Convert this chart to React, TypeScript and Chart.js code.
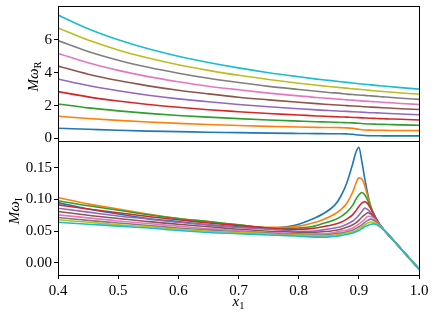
import React, { useEffect, useRef } from "react";
import { Chart, registerables } from "chart.js";
Chart.register(...registerables);

const FONT = "'Liberation Serif', 'DejaVu Serif', serif";
const COLORS = ["#1f77b4", "#ff7f0e", "#2ca02c", "#d62728", "#9467bd", "#8c564b", "#e377c2", "#7f7f7f", "#bcbd22", "#17becf"];

// Top panel: M omega_R
const X_R = [0.40, 0.45, 0.50, 0.55, 0.60, 0.65, 0.70, 0.75, 0.80, 0.83, 0.85, 0.87, 0.88, 0.89, 0.90, 0.91, 0.92, 0.93, 0.94, 0.95, 0.97, 1.00];
const R1 = [0.62, 0.56, 0.50, 0.45, 0.42, 0.38, 0.36, 0.33, 0.31, 0.30, 0.29, 0.29, 0.28, 0.26, 0.21, 0.18, 0.17, 0.17, 0.16, 0.16, 0.16, 0.16];
const R2 = [1.35, 1.22, 1.10, 1.00, 0.92, 0.85, 0.79, 0.74, 0.70, 0.68, 0.67, 0.66, 0.65, 0.62, 0.56, 0.52, 0.51, 0.50, 0.50, 0.49, 0.49, 0.48];
const R3 = [2.10, 1.86, 1.68, 1.53, 1.40, 1.30, 1.21, 1.13, 1.06, 1.02, 1.00, 0.97, 0.96, 0.95, 0.93, 0.90, 0.88, 0.87, 0.86, 0.85, 0.83, 0.81];
const R4 = [2.85, 2.53, 2.28, 2.07, 1.90, 1.75, 1.63, 1.52, 1.43, 1.37, 1.34, 1.31, 1.30, 1.28, 1.27, 1.25, 1.23, 1.22, 1.20, 1.19, 1.17, 1.13];
const R5 = [3.62, 3.22, 2.90, 2.63, 2.41, 2.23, 2.07, 1.93, 1.81, 1.74, 1.70, 1.66, 1.65, 1.63, 1.61, 1.59, 1.57, 1.56, 1.54, 1.52, 1.49, 1.44];
const R6 = [4.40, 3.91, 3.52, 3.20, 2.93, 2.71, 2.51, 2.35, 2.20, 2.12, 2.07, 2.02, 2.00, 1.98, 1.96, 1.93, 1.91, 1.89, 1.87, 1.85, 1.81, 1.76];
const R7 = [5.17, 4.60, 4.14, 3.76, 3.45, 3.18, 2.96, 2.76, 2.59, 2.49, 2.44, 2.38, 2.35, 2.33, 2.30, 2.27, 2.25, 2.23, 2.20, 2.18, 2.13, 2.07];
const R8 = [5.95, 5.29, 4.76, 4.33, 3.97, 3.66, 3.40, 3.17, 2.98, 2.87, 2.80, 2.74, 2.70, 2.67, 2.64, 2.62, 2.59, 2.56, 2.53, 2.51, 2.45, 2.38];
const R9 = [6.72, 5.98, 5.38, 4.89, 4.48, 4.14, 3.84, 3.59, 3.36, 3.24, 3.16, 3.09, 3.06, 3.02, 2.99, 2.96, 2.92, 2.89, 2.86, 2.83, 2.77, 2.69];
const R10 = [7.50, 6.67, 6.00, 5.45, 5.00, 4.62, 4.29, 4.00, 3.75, 3.61, 3.53, 3.45, 3.41, 3.37, 3.33, 3.30, 3.26, 3.23, 3.19, 3.16, 3.09, 3.00];

// Bottom panel: M omega_I
const X_I = [0.40, 0.45, 0.50, 0.55, 0.60, 0.65, 0.70, 0.75, 0.78, 0.80, 0.82, 0.84, 0.86, 0.87, 0.88, 0.89, 0.895, 0.90, 0.905, 0.91, 0.915, 0.92, 0.925, 0.93, 0.935, 0.94, 0.945, 0.95, 0.97, 1.00];
const I1 = [0.095, 0.085, 0.077, 0.070, 0.065, 0.060, 0.057, 0.055, 0.057, 0.061, 0.068, 0.077, 0.091, 0.105, 0.126, 0.157, 0.174, 0.182, 0.160, 0.132, 0.108, 0.088, 0.076, 0.067, 0.060, 0.054, 0.0487, 0.0434, 0.0223, -0.0095];
const I2 = [0.103, 0.093, 0.085, 0.077, 0.070, 0.065, 0.060, 0.056, 0.056, 0.058, 0.062, 0.068, 0.077, 0.084, 0.094, 0.112, 0.125, 0.134, 0.132, 0.121, 0.104, 0.089, 0.077, 0.067, 0.060, 0.054, 0.0487, 0.0434, 0.0223, -0.0095];
const I3 = [0.098, 0.090, 0.083, 0.076, 0.070, 0.065, 0.060, 0.055, 0.054, 0.055, 0.057, 0.062, 0.068, 0.073, 0.080, 0.091, 0.100, 0.107, 0.111, 0.107, 0.098, 0.087, 0.077, 0.068, 0.060, 0.054, 0.0487, 0.0434, 0.0223, -0.0095];
const I4 = [0.0915, 0.085, 0.079, 0.073, 0.068, 0.063, 0.059, 0.055, 0.053, 0.053, 0.054, 0.057, 0.061, 0.064, 0.069, 0.076, 0.082, 0.089, 0.094, 0.0965, 0.093, 0.085, 0.076, 0.068, 0.060, 0.054, 0.0487, 0.0434, 0.0223, -0.0095];
const I5 = [0.086, 0.080, 0.074, 0.069, 0.064, 0.060, 0.056, 0.053, 0.051, 0.050, 0.050, 0.052, 0.055, 0.057, 0.061, 0.066, 0.070, 0.075, 0.081, 0.0863, 0.084, 0.079, 0.073, 0.066, 0.060, 0.054, 0.0487, 0.0434, 0.0223, -0.0095];
const I6 = [0.081, 0.075, 0.070, 0.065, 0.061, 0.057, 0.053, 0.050, 0.049, 0.048, 0.048, 0.049, 0.051, 0.053, 0.056, 0.060, 0.063, 0.067, 0.072, 0.076, 0.079, 0.077, 0.072, 0.066, 0.060, 0.054, 0.0487, 0.0434, 0.0223, -0.0095];
const I7 = [0.0757, 0.071, 0.066, 0.062, 0.058, 0.054, 0.051, 0.048, 0.047, 0.046, 0.046, 0.046, 0.048, 0.050, 0.052, 0.055, 0.058, 0.061, 0.065, 0.069, 0.0735, 0.073, 0.070, 0.065, 0.059, 0.054, 0.0487, 0.0434, 0.0223, -0.0095];
const I8 = [0.0715, 0.067, 0.063, 0.059, 0.055, 0.052, 0.049, 0.047, 0.045, 0.045, 0.044, 0.044, 0.046, 0.047, 0.049, 0.052, 0.054, 0.057, 0.060, 0.064, 0.067, 0.069, 0.067, 0.064, 0.059, 0.054, 0.0487, 0.0434, 0.0223, -0.0095];
const I9 = [0.068, 0.064, 0.060, 0.057, 0.053, 0.050, 0.048, 0.046, 0.044, 0.044, 0.043, 0.042, 0.044, 0.045, 0.047, 0.049, 0.051, 0.054, 0.057, 0.060, 0.063, 0.0645, 0.064, 0.062, 0.058, 0.054, 0.0487, 0.0434, 0.0223, -0.0095];
const I10 = [0.064, 0.061, 0.058, 0.055, 0.051, 0.048, 0.046, 0.044, 0.043, 0.042, 0.041, 0.0405, 0.042, 0.043, 0.045, 0.047, 0.049, 0.051, 0.054, 0.057, 0.059, 0.061, 0.0615, 0.060, 0.057, 0.054, 0.0487, 0.0434, 0.0223, -0.0095];

const R_TICKS = [0, 2, 4, 6];
const I_TICKS = [0, 0.05, 0.1, 0.15];
const X_TICKS = [0.4, 0.5, 0.6, 0.7, 0.8, 0.9, 1.0];

const W = 436;
const TOP_H = 150;
const BOT_TOP = 136;
const BOT_H = 322 - BOT_TOP;

type Part = { t: string; italic?: boolean; size: number; dy?: number };

function drawParts(ctx: CanvasRenderingContext2D, parts: Part[], cx: number) {
  let total = 0;
  const widths = parts.map((p) => {
    ctx.font = `${p.italic ? "italic " : ""}${p.size}px ${FONT}`;
    const w = ctx.measureText(p.t).width;
    total += w;
    return w;
  });
  let x = cx - total / 2;
  parts.forEach((p, i) => {
    ctx.font = `${p.italic ? "italic " : ""}${p.size}px ${FONT}`;
    ctx.fillText(p.t, x, p.dy || 0);
    x += widths[i];
  });
}

function makeFramePlugin(labels: (ctx: CanvasRenderingContext2D) => void) {
  return {
    id: "frame",
    afterDatasetsDraw(chart: any) {
      const { ctx, chartArea: a } = chart;
      ctx.save();
      ctx.strokeStyle = "#000";
      ctx.lineWidth = 1;
      ctx.strokeRect(
        Math.round(a.left) + 0.5,
        Math.round(a.top) + 0.5,
        Math.round(a.right - a.left),
        Math.round(a.bottom - a.top)
      );
      ctx.restore();
    },
    afterDraw(chart: any) {
      const ctx = chart.ctx as CanvasRenderingContext2D;
      ctx.save();
      ctx.fillStyle = "#000";
      ctx.textBaseline = "alphabetic";
      ctx.textAlign = "left";
      labels(ctx);
      ctx.restore();
    },
  };
}

function buildDatasets(xs: number[], series: number[][]) {
  return series.map((ys, i) => ({
    data: xs.map((x, j) => ({ x, y: ys[j] })),
    borderColor: COLORS[i],
    backgroundColor: COLORS[i],
    borderWidth: 1.6,
    pointRadius: 0,
    fill: false,
    cubicInterpolationMode: "monotone" as const,
    order: 10 - i,
  }));
}

const tickFont = { family: FONT, size: 15 };

function fitY(s: any) {
  s.width = 58;
  s.paddingTop = 0;
  s.paddingBottom = 0;
  s.paddingLeft = 0;
  s.paddingRight = 0;
}

export default function App() {
  const topRef = useRef<HTMLCanvasElement>(null);
  const botRef = useRef<HTMLCanvasElement>(null);

  useEffect(() => {
    const top = new Chart(topRef.current!, {
      type: "line",
      data: { datasets: buildDatasets(X_R, [R1, R2, R3, R4, R5, R6, R7, R8, R9, R10]) as any },
      options: {
        responsive: false,
        animation: false,
        devicePixelRatio: 1,
        layout: { padding: { top: 6, right: 17, bottom: TOP_H - 141, left: 0 } },
        plugins: { legend: { display: false }, tooltip: { enabled: false } },
        scales: {
          x: { type: "linear", min: 0.4, max: 1.0, display: false },
          y: {
            type: "linear",
            min: -0.15,
            max: 8.05,
            afterFit: fitY,
            afterBuildTicks: (s: any) => { s.ticks = R_TICKS.map((v) => ({ value: v })); },
            ticks: { font: tickFont, color: "#000", padding: 2, callback: (v: any) => String(v) },
            grid: { drawOnChartArea: false, drawTicks: true, tickLength: 4, color: "#000", lineWidth: 1 },
            border: { display: false },
          },
        },
      },
      plugins: [
        makeFramePlugin((ctx) => {
          ctx.translate(38, 76.5);
          ctx.rotate(-Math.PI / 2);
          drawParts(ctx, [
            { t: "M", italic: true, size: 15 },
            { t: "ω", italic: true, size: 15 },
            { t: "R", size: 10.5, dy: 3 },
          ], 0);
        }),
      ],
    });

    const bot = new Chart(botRef.current!, {
      type: "line",
      data: { datasets: buildDatasets(X_I, [I1, I2, I3, I4, I5, I6, I7, I8, I9, I10]) as any },
      options: {
        responsive: false,
        animation: false,
        devicePixelRatio: 1,
        layout: { padding: { top: 141 - BOT_TOP, right: 17, bottom: 0, left: 0 } },
        plugins: { legend: { display: false }, tooltip: { enabled: false } },
        scales: {
          x: {
            type: "linear",
            min: 0.4,
            max: 1.0,
            afterFit: (s: any) => {
              s.height = BOT_H - (275 - BOT_TOP);
              s.paddingLeft = 0;
              s.paddingRight = 0;
              s.paddingTop = 0;
              s.paddingBottom = 0;
            },
            afterBuildTicks: (s: any) => { s.ticks = X_TICKS.map((v) => ({ value: v })); },
            ticks: { font: tickFont, color: "#000", padding: 3, maxRotation: 0, callback: (v: any) => Number(v).toFixed(1) },
            grid: { drawOnChartArea: false, drawTicks: true, tickLength: 4, color: "#000", lineWidth: 1 },
            border: { display: false },
          },
          y: {
            type: "linear",
            min: -0.019,
            max: 0.192,
            afterFit: fitY,
            afterBuildTicks: (s: any) => { s.ticks = I_TICKS.map((v) => ({ value: v })); },
            ticks: { font: tickFont, color: "#000", padding: 2, callback: (v: any) => Number(v).toFixed(2) },
            grid: { drawOnChartArea: false, drawTicks: true, tickLength: 4, color: "#000", lineWidth: 1 },
            border: { display: false },
          },
        },
      },
      plugins: [
        makeFramePlugin((ctx) => {
          ctx.save();
          ctx.translate(0, 306 - BOT_TOP);
          drawParts(ctx, [
            { t: "x", italic: true, size: 15 },
            { t: "1", size: 10.5, dy: 2.5 },
          ], 238.5);
          ctx.restore();
          ctx.save();
          ctx.translate(19, 211 - BOT_TOP);
          ctx.rotate(-Math.PI / 2);
          drawParts(ctx, [
            { t: "M", italic: true, size: 15 },
            { t: "ω", italic: true, size: 15 },
            { t: "I", size: 10.5, dy: 3 },
          ], 0);
          ctx.restore();
        }),
      ],
    });

    return () => {
      top.destroy();
      bot.destroy();
    };
  }, []);

  return (
    <div style={{ position: "absolute", left: 0, top: 0, width: W, height: 322, background: "#fff" }}>
      <canvas
        ref={topRef}
        width={W}
        height={TOP_H}
        style={{ position: "absolute", left: 0, top: 0, width: W, height: TOP_H }}
      />
      <canvas
        ref={botRef}
        width={W}
        height={BOT_H}
        style={{ position: "absolute", left: 0, top: BOT_TOP, width: W, height: BOT_H }}
      />
    </div>
  );
}
